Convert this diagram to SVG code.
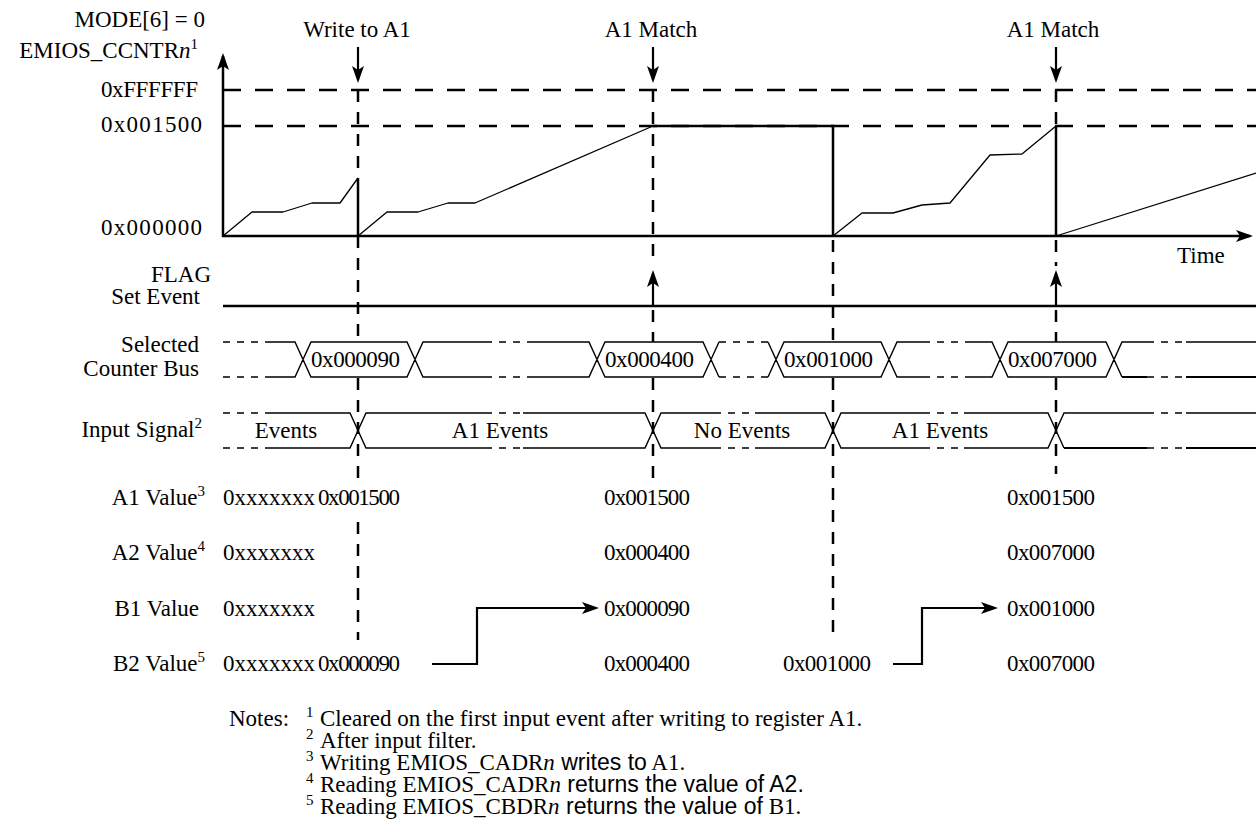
<svg xmlns="http://www.w3.org/2000/svg" width="1256" height="838" viewBox="0 0 1256 838">
<style>
text{font-family:"Liberation Serif","Times New Roman",serif;font-size:23px;fill:#000}
text.sup,tspan.sup{font-size:15px}
.sans{font-family:"Liberation Sans",Arial,sans-serif}
.it{font-style:italic}
.ax{stroke:#000;stroke-width:2.5;fill:none}
.hd{stroke:#000;stroke-width:2.5;stroke-dasharray:18 14;fill:none}
.vd{stroke:#000;stroke-width:2.5;stroke-dasharray:12 10;fill:none}
.wf{stroke:#000;stroke-width:1.3;fill:none;stroke-linejoin:round}
.bus{stroke:#000;stroke-width:1.4;fill:none}
.busd{stroke:#000;stroke-width:1.4;fill:none;stroke-dasharray:7 7}
.con{stroke:#000;stroke-width:2.2;fill:none}
</style>
<defs>
<marker id="ah" viewBox="0 0 17 12" refX="14" refY="6" markerWidth="17" markerHeight="12" orient="auto" markerUnits="userSpaceOnUse">
<path d="M0,0 L17,6 L0,12 L4,6 Z" fill="#000"/>
</marker>
</defs>

<!-- axes -->
<g id="axes">
<line class="ax" x1="223" y1="237" x2="223" y2="56" marker-end="url(#ah)"/>
<line class="ax" x1="222" y1="236" x2="1250" y2="236" marker-end="url(#ah)"/>
<line class="hd" x1="223" y1="90" x2="1256" y2="90"/>
<line class="hd" x1="223" y1="126" x2="1256" y2="126"/>
<text x="1177" y="263">Time</text>
</g>

<g id="y-labels" text-anchor="end">
<text x="205" y="27">MODE[6] = 0</text>
<text x="198" y="58">EMIOS_CCNTR<tspan class="it">n</tspan><tspan class="sup" dy="-9">1</tspan></text>
<text x="198" y="97" textLength="97">0xFFFFFF</text>
<text x="202" y="132" textLength="101">0x001500</text>
<text x="202" y="235" textLength="101">0x000000</text>
</g>

<!-- counter waveform -->
<g id="counter">
<polyline class="wf" points="223,236 252,212 283,212 312,203 340,203 358,178"/>
<polyline class="wf" points="358,236 387,212 418,212 448,203 475,203 653,126"/>
<polyline class="wf" points="833,236 862,213 893,213 922,205 950,203 990,155 1022,154 1056,126"/>
<polyline class="wf" points="1056,236 1256,173"/>
<line class="ax" x1="358" y1="178" x2="358" y2="236"/>
<polyline class="ax" points="653,126 833,126 833,236"/>
<line class="ax" x1="1056" y1="126" x2="1056" y2="236"/>
</g>

<!-- event labels -->
<g id="event-labels" text-anchor="middle">
<text x="357" y="37">Write to A1</text>
<text x="651" y="37">A1 Match</text>
<text x="1053" y="37">A1 Match</text>
</g>

<!-- signal labels -->
<g id="signal-labels" text-anchor="end">
<text x="211" y="282">FLAG</text>
<text x="200" y="304">Set Event</text>
<text x="199" y="352">Selected</text>
<text x="199" y="376">Counter Bus</text>
<text x="202" y="437">Input Signal<tspan class="sup" dy="-9">2</tspan></text>
<text x="205" y="505">A1 Value<tspan class="sup" dy="-9">3</tspan></text>
<text x="205" y="560">A2 Value<tspan class="sup" dy="-9">4</tspan></text>
<text x="199" y="616">B1 Value</text>
<text x="205" y="671">B2 Value<tspan class="sup" dy="-9">5</tspan></text>
</g>

<!-- FLAG line -->
<g id="flag">
<line class="ax" x1="223" y1="306" x2="1256" y2="306"/>
</g>

<!-- selected counter bus -->
<g id="bus">
<path class="busd" d="M223,342 H267 M223,377 H267 M485,342 H527 M485,377 H527 M719,342 H768 M719,377 H768 M923,342 H966 M923,377 H966 M1147,342 H1186 M1147,377 H1186"/>
<path class="bus" d="M267,342 H295 L311,377 H407 L423,342 H485 M267,377 H295 L311,342 H407 L423,377 H485
M527,342 H589 L605,377 H703 L719,342 M527,377 H589 L605,342 H703 L719,377
M768,342 L784,377 H881 L897,342 H923 M768,377 L784,342 H881 L897,377 H923
M966,342 H992 L1008,377 H1106 L1122,342 H1147 M966,377 H992 L1008,342 H1106 L1122,377"/>
<path class="bus" d="M1186,342 H1256"/>
<path stroke="#000" stroke-width="2" fill="none" d="M1122,377 H1147 M1186,377 H1256"/>
<text x="311" y="367" textLength="89">0x000090</text>
<text x="605" y="367" textLength="89">0x000400</text>
<text x="784" y="367" textLength="89">0x001000</text>
<text x="1008" y="367" textLength="89">0x007000</text>
</g>

<!-- input signal -->
<g id="input">
<path class="busd" d="M223,413 H265 M223,448 H265 M485,413 H523 M485,448 H523 M714,413 H755 M714,448 H755 M923,413 H964 M923,448 H964 M1147,413 H1186 M1147,448 H1186"/>
<path class="bus" d="M265,413 H350 L366,448 H485 M265,448 H350 L366,413 H485
M523,413 H645 L661,448 H714 M523,448 H645 L661,413 H714
M755,413 H825 L841,448 H923 M755,448 H825 L841,413 H923
M964,413 H1048 L1064,448 M964,448 H1048 L1064,413 H1147 M1186,413 H1256"/>
<path stroke="#000" stroke-width="2" fill="none" d="M1064,448 H1147 M1186,448 H1256"/>
<text x="286" y="438" text-anchor="middle">Events</text>
<text x="500" y="438" text-anchor="middle">A1 Events</text>
<text x="742" y="438" text-anchor="middle">No Events</text>
<text x="940" y="438" text-anchor="middle">A1 Events</text>
</g>

<!-- register values -->
<g id="values">
<text x="223" y="505">0xxxxxxx</text>
<text x="318" y="505" textLength="82">0x001500</text>
<text x="604" y="505" textLength="86">0x001500</text>
<text x="1007" y="505" textLength="88">0x001500</text>
<text x="223" y="560">0xxxxxxx</text>
<text x="604" y="560" textLength="86">0x000400</text>
<text x="1007" y="560" textLength="88">0x007000</text>
<text x="223" y="616">0xxxxxxx</text>
<text x="604" y="616" textLength="86">0x000090</text>
<text x="1007" y="616" textLength="88">0x001000</text>
<text x="223" y="671">0xxxxxxx</text>
<text x="318" y="671" textLength="82">0x000090</text>
<text x="604" y="671" textLength="86">0x000400</text>
<text x="783" y="671" textLength="88">0x001000</text>
<text x="1007" y="671" textLength="88">0x007000</text>
</g>

<!-- connectors -->
<g id="connectors">
<line class="con" x1="358" y1="47" x2="358" y2="80" marker-end="url(#ah)"/>
<line class="con" x1="653" y1="47" x2="653" y2="80" marker-end="url(#ah)"/>
<line class="con" x1="1056" y1="47" x2="1056" y2="80" marker-end="url(#ah)"/>
<path class="vd" d="M358,90 V178 M358,236 V342 M358,378 V487 M358,522 V640"/>
<path class="vd" d="M653,90 V266 M653,310 V342 M653,378 V478"/>
<path class="vd" d="M833,240 V342 M833,378 V633"/>
<path class="vd" d="M1056,90 V126 M1056,240 V266 M1056,310 V342 M1056,378 V474"/>
<line class="con" x1="653" y1="306" x2="653" y2="273" marker-end="url(#ah)"/>
<line class="con" x1="1056" y1="306" x2="1056" y2="273" marker-end="url(#ah)"/>
<polyline class="con" points="432,664 477,664 477,608 596,608" marker-end="url(#ah)"/>
<polyline class="con" points="893,664 922,664 922,608 995,608" marker-end="url(#ah)"/>
</g>

<!-- notes -->
<g id="notes">
<text x="229" y="726">Notes:</text>
<text class="sup" x="306" y="717">1</text>
<text x="320" y="726">Cleared on the first input event after writing to register A1.</text>
<text class="sup" x="306" y="739">2</text>
<text x="320" y="748">After input filter.</text>
<text class="sup" x="306" y="761">3</text>
<text x="320" y="770">Writing EMIOS_CADR<tspan class="it">n</tspan><tspan class="sans"> writes to</tspan> A1.</text>
<text class="sup" x="306" y="783">4</text>
<text x="320" y="792">Reading EMIOS_CADR<tspan class="it">n</tspan><tspan class="sans"> returns the value of A2.</tspan></text>
<text class="sup" x="306" y="805">5</text>
<text x="320" y="814">Reading EMIOS_CBDR<tspan class="it">n</tspan><tspan class="sans"> returns the value of</tspan> B1.</text>
</g>
</svg>
